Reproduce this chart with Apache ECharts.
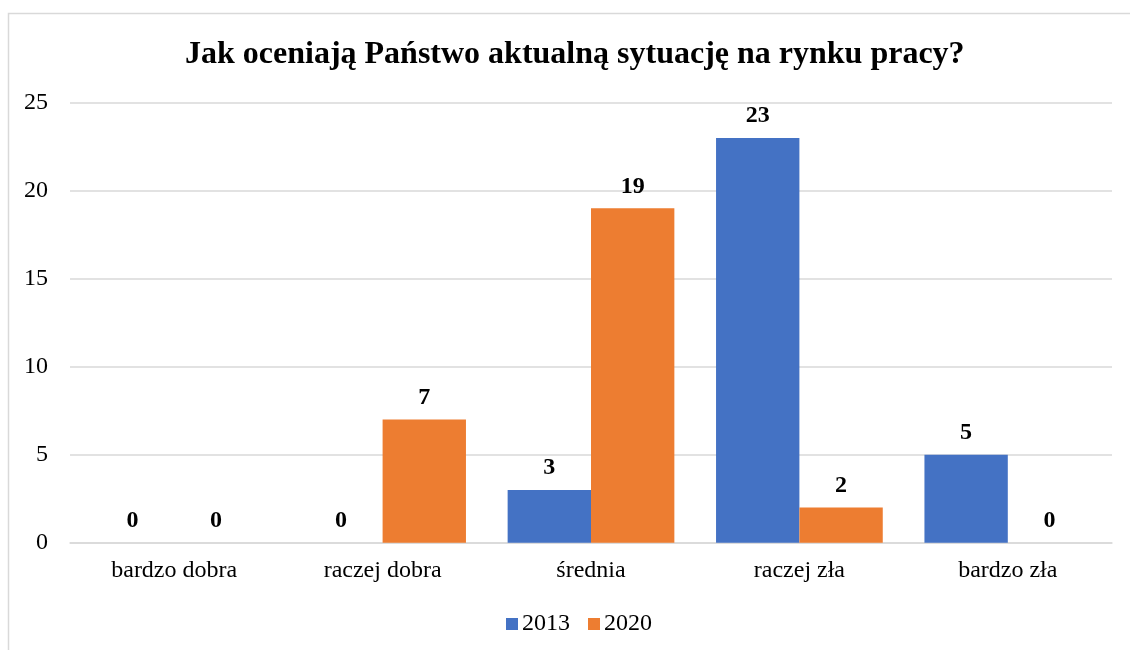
<!DOCTYPE html>
<html><head><meta charset="utf-8">
<script src="https://cdn.jsdelivr.net/npm/echarts@6/dist/echarts.min.js"></script>
<style>html,body{margin:0;padding:0;background:#fff}#c{width:1130px;height:650px}</style>
</head><body><div id="c"></div>
<script>
const categories = ['bardzo dobra', 'raczej dobra', 'średnia', 'raczej zła', 'bardzo zła'];
const values2013 = [0, 0, 3, 23, 5];
const values2020 = [0, 7, 19, 2, 0];
const seriesNames = ['2013', '2020'];
const titleText = 'Jak oceniają Państwo aktualną sytuację na rynku pracy?';

const F = '"Liberation Serif", "Times New Roman", serif';
const chart = echarts.init(document.getElementById('c'), null, {renderer: 'canvas'});
const lbl = {show: true, position: 'top', distance: 10, fontFamily: F, fontSize: 24, fontWeight: 'bold', color: '#000'};
chart.setOption({
  animation: false,
  graphic: [{type: 'rect', shape: {x: 8.5, y: 13.5, width: 1300, height: 800}, style: {fill: null, stroke: '#d9d9d9', lineWidth: 1.5}, silent: true}],
  title: {text: titleText, left: 180, top: 34, textStyle: {fontFamily: F, fontSize: 32, fontWeight: 'bold', color: '#000'}},
  legend: {data: seriesNames, bottom: 9, left: 501, itemWidth: 12, itemHeight: 12, itemGap: 18, icon: 'rect',
    textStyle: {fontFamily: F, fontSize: 24, color: '#000', padding: [0, 0, 0, -1]}},
  grid: {left: 70, right: 18, top: 102.7, bottom: 107.3, containLabel: false},
  xAxis: {type: 'category', data: categories, axisTick: {show: false},
    axisLine: {lineStyle: {color: '#d9d9d9', width: 1.5}},
    axisLabel: {fontFamily: F, fontSize: 24, color: '#000', margin: 16}},
  yAxis: {type: 'value', min: 0, max: 25, interval: 5,
    axisLine: {show: false}, axisTick: {show: false},
    splitLine: {lineStyle: {color: '#d9d9d9', width: 1.5}},
    axisLabel: {fontFamily: F, fontSize: 24, color: '#000', margin: 22}},
  series: [
    {name: seriesNames[0], type: 'bar', data: values2013, barWidth: '40%', barGap: '0%', itemStyle: {color: '#4472C4'}, label: lbl},
    {name: seriesNames[1], type: 'bar', data: values2020, barWidth: '40%', barGap: '0%', itemStyle: {color: '#ED7D31'}, label: lbl}
  ]
});
</script></body></html>
